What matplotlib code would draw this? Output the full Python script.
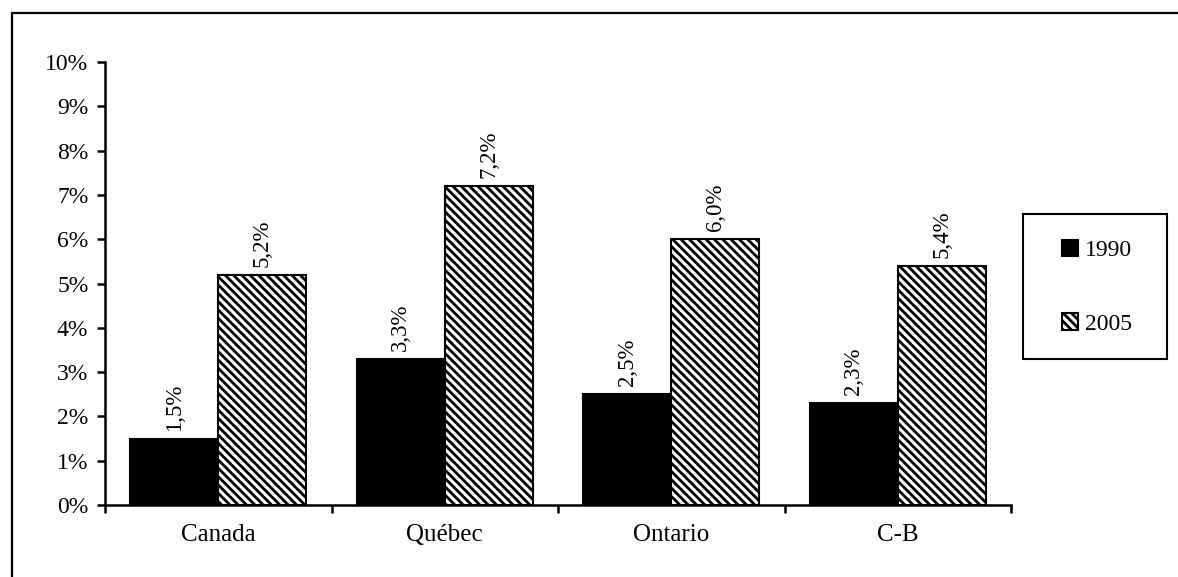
import matplotlib
matplotlib.use("Agg")
import matplotlib.pyplot as plt
import numpy as np
from matplotlib.patches import Rectangle

categories = ["Canada", "Québec", "Ontario", "C-B"]
series_names = ["1990", "2005"]
values_1990 = [1.5, 3.3, 2.5, 2.3]
values_2005 = [5.2, 7.2, 6.0, 5.4]
labels_1990 = ["1,5%", "3,3%", "2,5%", "2,3%"]
labels_2005 = ["5,2%", "7,2%", "6,0%", "5,4%"]
ytick_vals = list(range(0, 11))
ytick_labels = [f"{v}%" for v in ytick_vals]

plt.rcParams['font.family'] = ['Liberation Serif', 'DejaVu Serif']
plt.rcParams['hatch.linewidth'] = 2.0

W, H = 1178, 577
fig = plt.figure(figsize=(W / 100, H / 100), dpi=100)
ax = fig.add_axes([105 / W, 1 - 505 / H, (1011 - 105) / W, (505 - 62) / H])

x = np.arange(len(categories)) + 0.5
bw = 0.389
b1 = ax.bar(x - bw / 2, values_1990, bw, color='black', edgecolor='black', linewidth=1.5, label=series_names[0])
b2 = ax.bar(x + bw / 2, values_2005, bw, color='white', edgecolor='black', linewidth=1.5,
            hatch='\\\\\\\\', label=series_names[1])

for bars, labs in ((b1, labels_1990), (b2, labels_2005)):
    for rect, lab in zip(bars, labs):
        ax.annotate(lab, (rect.get_x() + rect.get_width() / 2, rect.get_height()),
                    xytext=(0, 8), textcoords='offset pixels', rotation=90,
                    ha='center', va='bottom', fontsize=16.5)

ax.set_xlim(0, len(categories))
ax.set_ylim(0, 10)
ax.set_yticks(ytick_vals)
ax.set_yticklabels(ytick_labels, fontsize=17)
ax.set_xticks(np.arange(len(categories) + 1))
ax.set_xticklabels([])
ax.set_xticks(x, minor=True)
ax.set_xticklabels(categories, minor=True, fontsize=18)
ax.tick_params(axis='x', which='major', direction='out', length=6, width=1.8)
ax.tick_params(axis='x', which='minor', length=0, pad=14)
ax.tick_params(axis='y', direction='out', length=6, width=1.8, pad=6)
for s in ['top', 'right']:
    ax.spines[s].set_visible(False)
for s in ['left', 'bottom']:
    ax.spines[s].set_linewidth(1.8)

# legend box
fig.patches.append(Rectangle((1023 / W, 1 - 359 / H), (1167 - 1023) / W, (359 - 214) / H,
                             transform=fig.transFigure, fill=False, edgecolor='black', linewidth=1.5))
leg = fig.legend(handles=[b1, b2], labels=series_names, loc='center',
                 bbox_to_anchor=(1097 / W, 1 - 287 / H),
                 fontsize=17, frameon=False,
                 handlelength=0.7, handleheight=0.7, handletextpad=0.3,
                 labelspacing=2.2, borderpad=0, borderaxespad=0)

# outer frame
fig.patches.append(Rectangle((12 / W, -0.1), 1.2, 1 - 13 / H + 0.1, transform=fig.transFigure,
                             fill=False, edgecolor='black', linewidth=1.6))

fig.savefig("out.png", dpi=100)
